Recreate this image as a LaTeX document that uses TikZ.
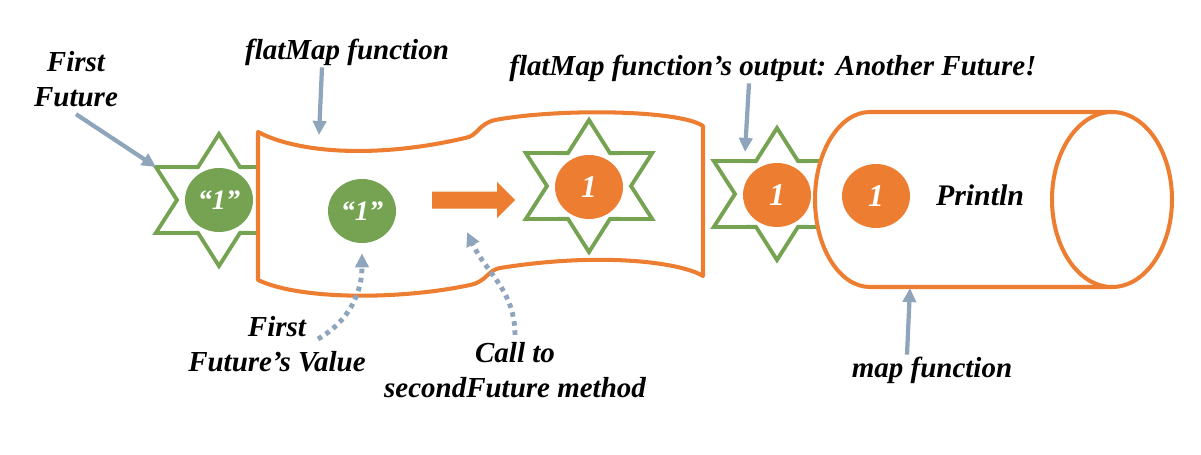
\documentclass[tikz,border=0pt]{standalone}
\usepackage{fontspec}
\setmainfont{Liberation Serif}
\usetikzlibrary{arrows.meta, shapes.geometric, positioning}

\definecolor{futgreen}{HTML}{76A352}
\definecolor{futorange}{HTML}{ED7D31}
\definecolor{pointgray}{HTML}{8EA5BC}

\tikzset{
  label text/.style={font=\fontsize{16.5}{20}\selectfont\bfseries\itshape, align=center, inner sep=1pt},
  star line/.style={draw=futgreen, line width=2.2pt, fill=white, line join=miter},
  green dot/.style={ellipse, fill=futgreen, minimum width=1.36cm, minimum height=1.28cm, inner sep=0pt,
    text=white, font=\fontsize{16}{16}\selectfont\bfseries\itshape},
  orange dot/.style={green dot, fill=futorange, font=\fontsize{18}{18}\selectfont\bfseries\itshape},
  wrap line/.style={draw=futorange, line width=2.3pt, fill=white, line join=round},
  pointer/.style={draw=pointgray, line width=2.4pt, -{Triangle[length=8pt, width=7.5pt]}},
  dotlink/.style={pointer, line width=2.8pt, dash pattern=on 2.6pt off 2.6pt},
}

% six pointed star round a centre
\newcommand{\futstar}[1]{%
  \draw[star line] (#1) +(90:73 and 66) -- +(120:42 and 38) -- +(150:73 and 66) -- +(180:42 and 38)
    -- +(210:73 and 66) -- +(240:42 and 38) -- +(270:73 and 66) -- +(300:42 and 38)
    -- +(330:73 and 66) -- +(0:42 and 38) -- +(30:73 and 66) -- +(60:42 and 38) -- cycle;}

\begin{document}
\begin{tikzpicture}[x=0.02cm, y=0.02cm]
\useasboundingbox (0,0) rectangle (1201,454);

% First future
\futstar{219,254}
\node[green dot] (v1) at (219,254) {“1”};
\coordinate (s1p) at (156,287);

% flatMap function
\draw[wrap line] (258,322) .. controls (300,300) and (380,296) .. (465,316)
  .. controls (478,318) and (478,330) .. (495,334) .. controls (560,346) and (680,344) .. (703,328)
  -- (703,178) .. controls (680,192) and (600,202) .. (500,186)
  .. controls (488,184) and (486,172) .. (470,169) .. controls (400,154) and (300,154) .. (258,174) -- cycle;
\coordinate (wraptop) at (319,319);
\node[green dot] (v2) at (362,243) {“1”};
\fill[futorange] (432,245.5) -- (497,245.5) -- (497,236) -- (515,254) -- (497,272) -- (497,262.5) -- (432,262.5) -- cycle;
\coordinate (calltip) at (467,222);
\futstar{589,268}
\node[orange dot] (o1) at (589,267) {1};

% Another future
\futstar{777,260}
\coordinate (s3p) at (745,302);

% map function
\draw[wrap line] (870,342) -- (1112,342) -- (1112,167) -- (870,167)
  arc[start angle=270, end angle=90, x radius=55, y radius=87.5] -- cycle;
\draw[wrap line] (1112,254.5) ellipse[x radius=60, y radius=87.5];
\coordinate (cylbot) at (910,166);
\node[orange dot] (o2) at (777,259) {1};
\node[orange dot] (o3) at (876,258) {1};
\node[font=\fontsize{17}{17}\selectfont\bfseries\itshape] (pr) at (980,259) {Println};

% Labels
\node[label text] (ff) at (76,375) {First\\Future};
\node[label text] (fm) at (347,402) {flatMap function};
\node[label text] (out) at (773,386) {flatMap function’s output: Another Future!};
\node[label text] (fv) at (277,110) {First\\Future’s Value};
\node[label text] (ct) at (515,84) {Call to\\secondFuture method};
\node[label text] (mf) at (932,84) {map function};

% Pointers
\draw[pointer] ([yshift=-3pt]ff.south) -- (s1p);
\draw[pointer] ([xshift=-0.5cm]fm.south) -- (wraptop);
\draw[pointer] ([xshift=-0.48cm]out.south) -- (s3p);
\draw[pointer] ([xshift=-0.5cm]mf.north) -- (cylbot);
\draw[dotlink] ([shift={(0.82cm,0.1cm)}]fv.center) to[out=30, in=-90] ([yshift=-0.2cm]v2.south);
\draw[dotlink] ([yshift=3pt]ct.north) to[out=90, in=-65] (calltip);

\end{tikzpicture}
\end{document}
